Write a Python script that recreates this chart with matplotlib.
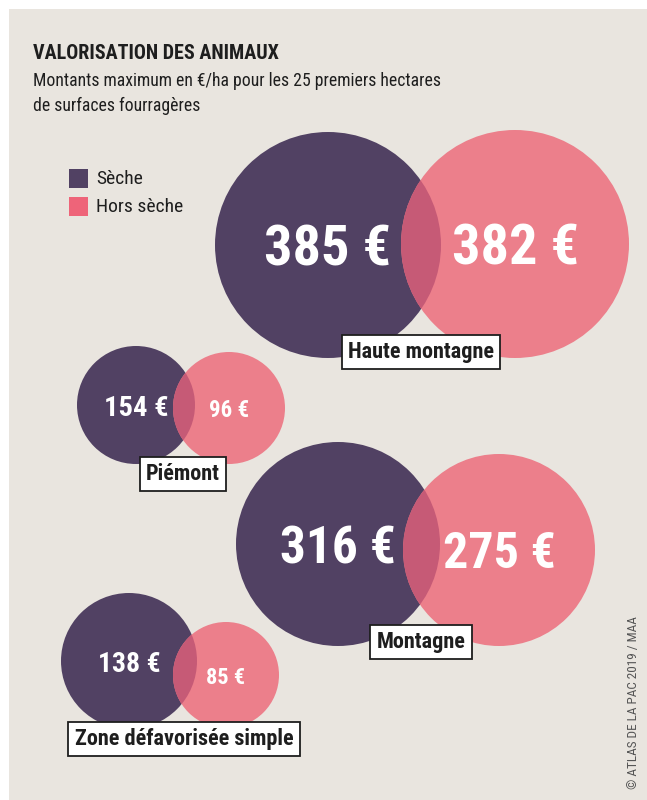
import matplotlib
matplotlib.use("Agg")
import matplotlib.pyplot as plt
from matplotlib.patches import Circle, Rectangle

plt.rcParams['font.family'] = ['Roboto Condensed', 'Liberation Sans', 'DejaVu Sans']

# Data
zones = ["Haute montagne", "Piémont", "Montagne", "Zone défavorisée simple"]
seche = [385, 154, 316, 138]
hors_seche = [382, 96, 275, 85]

# Layout in pixels (x, y, r)
dark_pos = [(328, 245, 113), (136, 405, 59), (338, 544, 102), (129, 661, 68)]
pink_pos = [(515, 244, 114), (229, 408, 56), (499, 550, 96), (226, 675, 53)]
label_pos = [(421, 352), (183, 474), (421, 642), (184, 739)]
value_size = [40.5, 20.5, 37, 20]
pink_size = [40.5, 16.5, 36, 16]

bg = "#e9e5df"
dark = "#514163"
pink = "#ec7f8b"
overlap = "#c65a76"
legend_pink = "#ee6479"
ink = "#1e1e1e"

fig = plt.figure(figsize=(6.47, 8), dpi=100)
fig.patch.set_facecolor("white")
ax = fig.add_axes([0, 0, 1, 1])
ax.set_xlim(0, 647)
ax.set_ylim(800, 0)
ax.axis("off")

ax.add_patch(Rectangle((9, 9), 640, 800, fc=bg, ec="none"))

for i in range(len(zones)):
    dx, dy, dr = dark_pos[i]
    px, py, pr = pink_pos[i]
    c1 = Circle((dx, dy), dr, fc=dark, ec="none")
    ax.add_patch(c1)
    ax.add_patch(Circle((px, py), pr, fc=pink, ec="none"))
    # overlap area in a darker pink
    ov = Circle((px, py), pr, fc=overlap, ec="none")
    ax.add_patch(ov)
    ov.set_clip_path(c1)
    ax.text(dx, dy, f"{seche[i]} €", color="white", fontsize=value_size[i],
            fontweight="bold", ha="center", va="center_baseline")
    ax.text(px, py, f"{hors_seche[i]} €", color="white", fontsize=pink_size[i],
            fontweight="bold", ha="center", va="center_baseline")
    lx, ly = label_pos[i]
    ax.text(lx, ly, zones[i], color=ink, fontsize=16, fontweight="bold",
            ha="center", va="center",
            bbox=dict(boxstyle="square,pad=0.28", fc="white", ec=ink, lw=1.3))

# Title
ax.text(33, 59, "VALORISATION DES ANIMAUX", fontsize=14.5, fontweight="bold",
        color=ink, ha="left", va="baseline")
ax.text(33, 86, "Montants maximum en €/ha pour les 25 premiers hectares",
        fontsize=12.7, color=ink, ha="left", va="baseline")
ax.text(33, 111, "de surfaces fourragères", fontsize=12.7, color=ink,
        ha="left", va="baseline")

# Legend
ax.add_patch(Rectangle((69, 169), 19, 19, fc=dark, ec="none"))
ax.add_patch(Rectangle((69, 197), 19, 19, fc=legend_pink, ec="none"))
ax.text(96, 179, "Sèche", fontsize=14, color=ink, ha="left", va="center")
ax.text(96, 207, "Hors sèche", fontsize=14, color=ink, ha="left", va="center")

# Credit
ax.text(633, 703, "© ATLAS DE LA PAC 2019 / MAA", fontsize=9.5, color="#555555",
        rotation=90, ha="center", va="center")

fig.savefig("out.png", dpi=100, facecolor=fig.get_facecolor())
